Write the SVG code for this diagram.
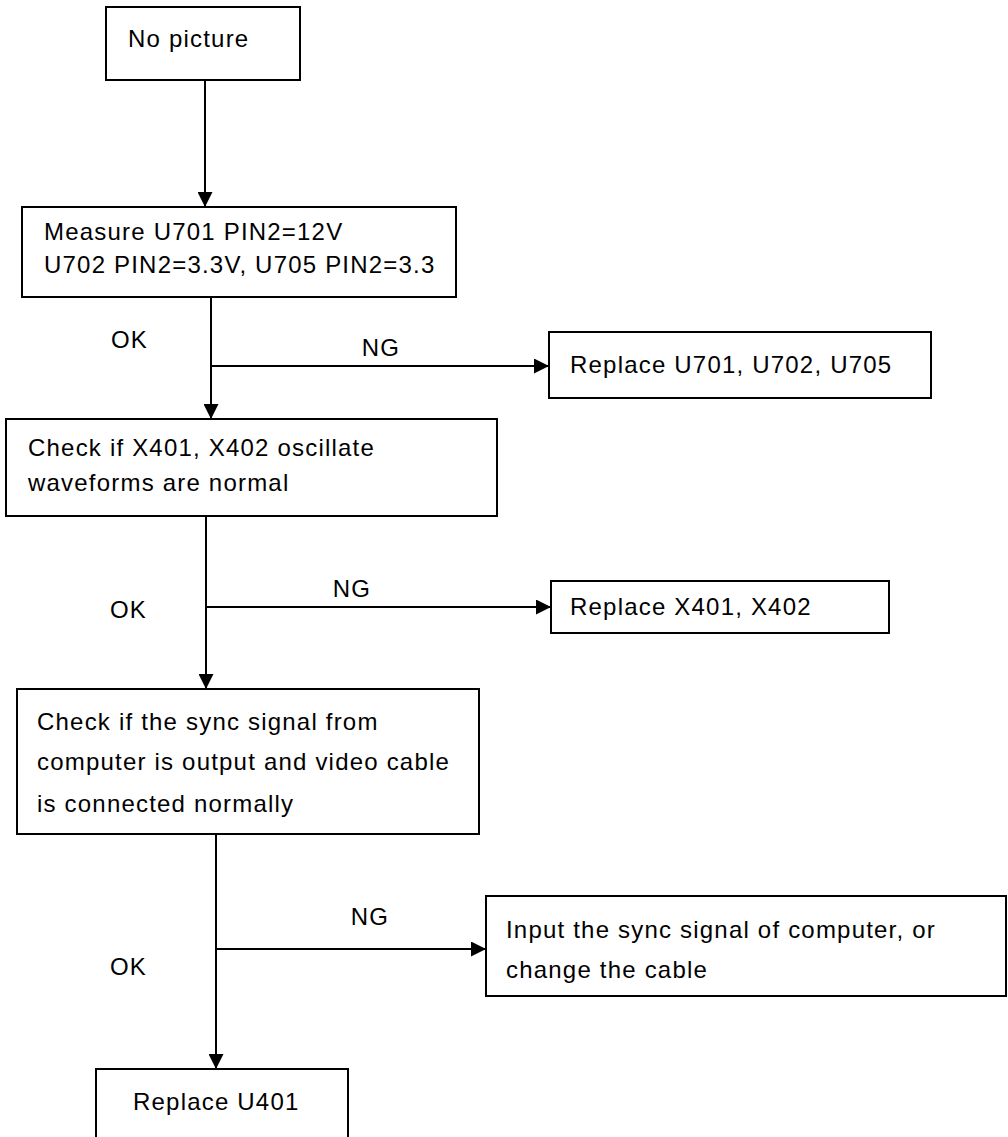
<svg xmlns="http://www.w3.org/2000/svg" width="1008" height="1137" viewBox="0 0 1008 1137">
<defs>
<marker id="ah" markerUnits="userSpaceOnUse" markerWidth="15" markerHeight="15" refX="15" refY="7.5" orient="auto">
<path d="M0,0 L15,7.5 L0,15 z" fill="#000"/>
</marker>
<style>
.box{fill:#fff;stroke:#000;stroke-width:2}
.t{font-family:"Liberation Sans",Arial,sans-serif;font-size:24px;fill:#000;letter-spacing:1.2px}
.c{stroke:#000;stroke-width:2;fill:none}
.a{marker-end:url(#ah)}
</style>
</defs>
<rect width="1008" height="1137" fill="#fff"/>
<g id="connectors">
<line class="c a" x1="205" y1="80" x2="205" y2="207"/>
<line class="c a" x1="211" y1="297" x2="211" y2="419"/>
<line class="c a" x1="211" y1="366" x2="549" y2="366"/>
<line class="c a" x1="206" y1="516" x2="206" y2="689"/>
<line class="c a" x1="206" y1="607" x2="551" y2="607"/>
<line class="c a" x1="216" y1="834" x2="216" y2="1069"/>
<line class="c a" x1="216" y1="949" x2="486" y2="949"/>
<text class="t" x="111" y="348">OK</text>
<text class="t" x="381" y="356" text-anchor="middle">NG</text>
<text class="t" x="110" y="618">OK</text>
<text class="t" x="352" y="597" text-anchor="middle">NG</text>
<text class="t" x="110" y="975">OK</text>
<text class="t" x="370" y="925" text-anchor="middle">NG</text>
</g>
<g id="n1">
<rect class="box" x="106" y="7" width="194" height="73"/>
<text class="t" x="128" y="47">No picture</text>
</g>
<g id="n2">
<rect class="box" x="22" y="207" width="434" height="90"/>
<text class="t" x="44" y="240">Measure U701 PIN2=12V</text>
<text class="t" x="44" y="273">U702 PIN2=3.3V, U705 PIN2=3.3</text>
</g>
<g id="n3">
<rect class="box" x="549" y="332" width="382" height="66"/>
<text class="t" x="570" y="373">Replace U701, U702, U705</text>
</g>
<g id="n4">
<rect class="box" x="6" y="419" width="491" height="97"/>
<text class="t" x="28" y="456">Check if X401, X402 oscillate</text>
<text class="t" x="28" y="491">waveforms are normal</text>
</g>
<g id="n5">
<rect class="box" x="551" y="581" width="338" height="52"/>
<text class="t" x="570" y="615">Replace X401, X402</text>
</g>
<g id="n6">
<rect class="box" x="17" y="689" width="462" height="145"/>
<text class="t" x="37" y="730">Check if the sync signal from</text>
<text class="t" x="37" y="770">computer is output and video cable</text>
<text class="t" x="37" y="812">is connected normally</text>
</g>
<g id="n7">
<rect class="box" x="486" y="896" width="520" height="100"/>
<text class="t" x="506" y="938">Input the sync signal of computer, or</text>
<text class="t" x="506" y="978">change the cable</text>
</g>
<g id="n8">
<rect class="box" x="96" y="1069" width="252" height="100"/>
<text class="t" x="133" y="1110">Replace U401</text>
</g>
</svg>
